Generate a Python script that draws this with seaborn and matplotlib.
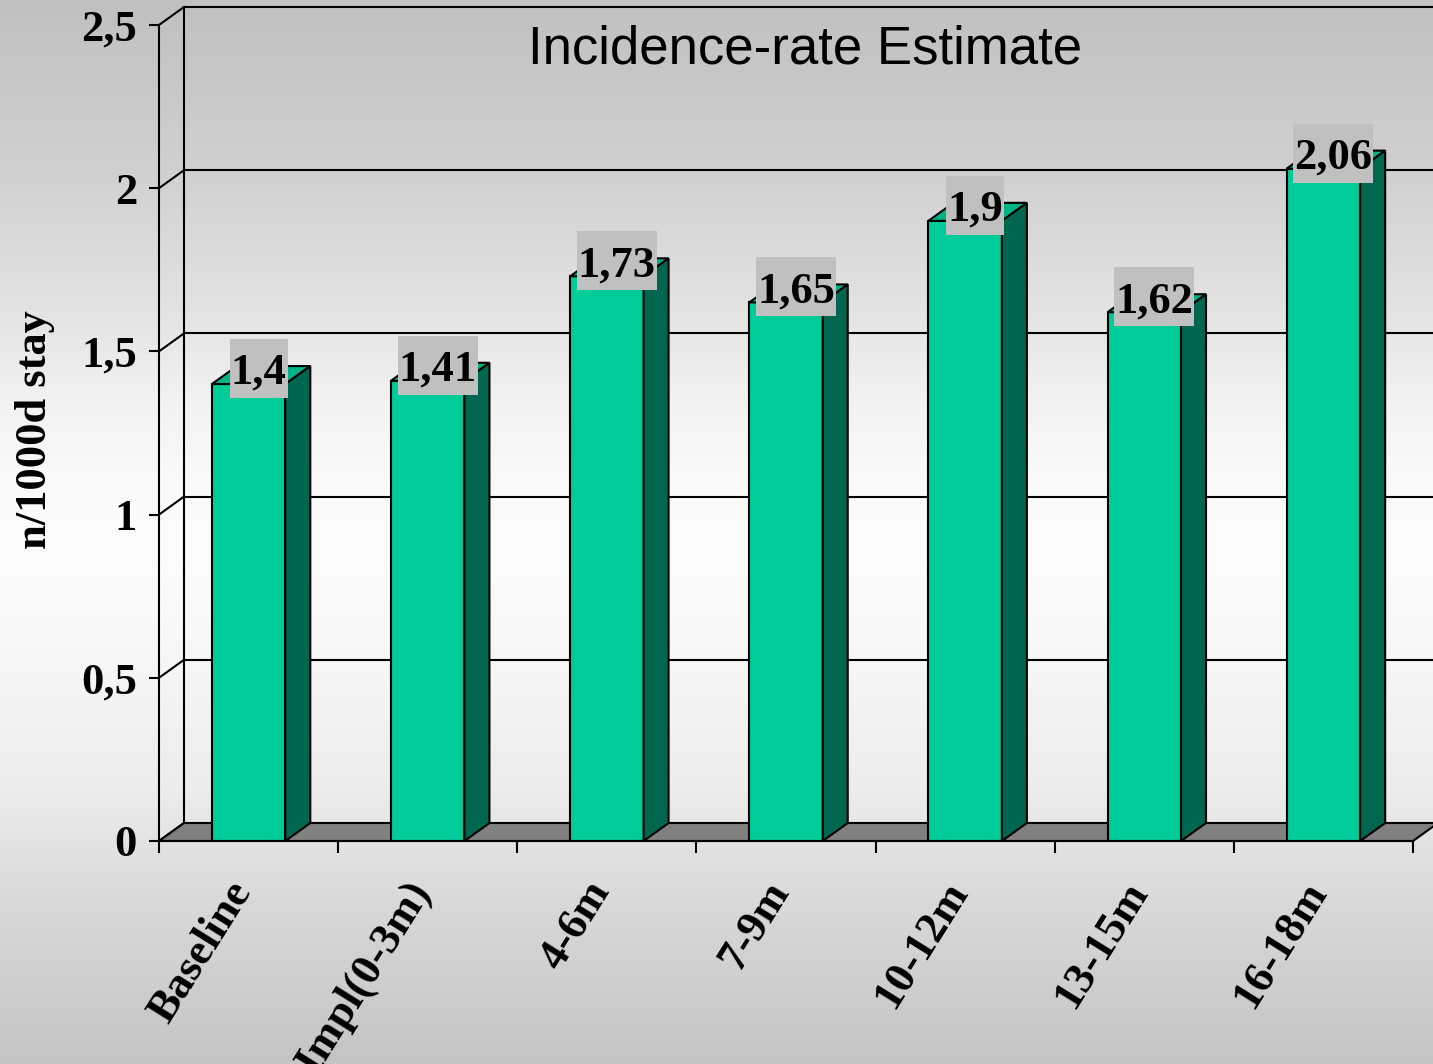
import numpy as np
import pandas as pd
import matplotlib
matplotlib.use("Agg")
import matplotlib.pyplot as plt
import seaborn as sns
from matplotlib.patches import Polygon, Rectangle
from matplotlib.ticker import FixedLocator, FuncFormatter
from matplotlib.transforms import ScaledTranslation

# --- data -------------------------------------------------------------
periods = ["Baseline", "Impl(0-3m)", "4-6m", "7-9m", "10-12m", "13-15m", "16-18m"]
rates = [1.4, 1.41, 1.73, 1.65, 1.9, 1.62, 2.06]
y_ticks = [0, 0.5, 1, 1.5, 2, 2.5]

title = "Incidence-rate Estimate"
y_label = "n/1000d stay"

# --- style ------------------------------------------------------------
FRONT = "#00CC99"
TOP = "#00B386"
SIDE = "#006650"
FLOOR = "#808080"
LABEL_BG = "#C0C0C0"
SERIF = ["Liberation Serif", "DejaVu Serif"]
SANS = ["Liberation Sans", "DejaVu Sans"]

plt.rcParams["font.family"] = SERIF
plt.rcParams["font.weight"] = "bold"
plt.rcParams["axes.linewidth"] = 1.5


def comma(v):
    return f"{v:g}".replace(".", ",")


W, H, DPI = 1433, 1064, 100
fig = plt.figure(figsize=(W / DPI, H / DPI), dpi=DPI)

# vertical grey-white-grey backdrop
bg = fig.add_axes([0, 0, 1, 1], zorder=-10)
rows = np.arange(H)
knots_px = [0, 170, 330, 400, 480, 560, 640, 790, 900, 1064]
knots_v = [192, 208, 230, 242, 250, 252, 248, 236, 217, 196]
shade = np.interp(rows, knots_px, knots_v) / 255.0
bg.imshow(np.repeat(shade[:, None], 4, axis=1)[:, :, None].repeat(3, axis=2),
          aspect="auto", extent=[0, 1, 0, 1], origin="upper")
bg.set_axis_off()

# front plane of the plot
left_px, right_px, top_px, base_px = 159, 1413, 25, 841
ax = fig.add_axes([left_px / W, (H - base_px) / H,
                   (right_px - left_px) / W, (base_px - top_px) / H])
ax.set_facecolor("none")

df = pd.DataFrame({"period": periods, "rate": rates})
sns.barplot(data=df, x="period", y="rate", order=periods, color=FRONT,
            saturation=1, width=0.41, edgecolor="black", linewidth=1.5,
            errorbar=None, ax=ax, zorder=3)
fronts = [p for p in ax.patches if isinstance(p, Rectangle)]

ax.set_xlim(-0.5, len(periods) - 0.5)
ax.set_ylim(0, 2.5)

# depth offset of the 3-D look, converted from pixels to data units
DX, DY = 25, 18
px_per_x = (right_px - left_px) / len(periods)
px_per_y = (base_px - top_px) / 2.5
dxd, dyd = DX / px_per_x, DY / px_per_y
x_lo, x_hi = -0.5, len(periods) - 0.5

# back wall outline, gridlines and the connectors to the front axis
ax.plot([x_lo + dxd] * 2, [dyd, 2.5 + dyd], color="black", lw=1.5,
        clip_on=False, zorder=1)
for v in y_ticks[1:]:
    ax.plot([x_lo + dxd, x_hi + 1.0], [v + dyd] * 2, color="black", lw=1.5,
            clip_on=False, zorder=1)
for v in y_ticks:
    ax.plot([x_lo, x_lo + dxd], [v, v + dyd], color="black", lw=1.5,
            clip_on=False, zorder=1)

# floor
ax.add_patch(Polygon([(x_lo, 0), (x_hi, 0), (x_hi + dxd, dyd), (x_lo + dxd, dyd)],
                     closed=True, fc=FLOOR, ec="black", lw=1.5, zorder=1.5,
                     clip_on=False))

# tops, sides and value labels of the bars
value_texts = []
for p in fronts:
    x0, w, h = p.get_x(), p.get_width(), p.get_height()
    x1 = x0 + w
    ax.add_patch(Polygon([(x0, h), (x1, h), (x1 + dxd, h + dyd), (x0 + dxd, h + dyd)],
                         closed=True, fc=TOP, ec="black", lw=1.5, zorder=3,
                         clip_on=False))
    ax.add_patch(Polygon([(x1, 0), (x1, h), (x1 + dxd, h + dyd), (x1 + dxd, dyd)],
                         closed=True, fc=SIDE, ec="black", lw=1.5, zorder=3,
                         clip_on=False))
    t = ax.text(x0 + w / 2 + 10 / px_per_x, h, comma(h),
                ha="center", va="baseline", fontsize=32, fontweight="bold",
                family=SERIF, zorder=5, clip_on=False)
    value_texts.append((t, h))

# axes, ticks and labels
sns.despine(ax=ax)
ax.spines["left"].set_zorder(4)
ax.spines["bottom"].set_zorder(4)

ax.yaxis.set_major_locator(FixedLocator(y_ticks))
ax.yaxis.set_major_formatter(FuncFormatter(lambda v, _: comma(v)))
ax.tick_params(axis="y", direction="out", length=7.2, width=1.5, pad=8.6,
               labelsize=32)

ax.set_xticks(range(len(periods)))
ax.set_xticks(np.arange(x_lo, x_hi + 0.01, 1.0), minor=True)
ax.set_xticklabels(periods, rotation=58, ha="right", va="top",
                   rotation_mode="anchor", fontsize=32, fontweight="bold")
ax.tick_params(axis="x", which="major", length=0, pad=23.8)
ax.tick_params(axis="x", which="minor", direction="out", length=8.6, width=1.5)
shift = ScaledTranslation(-23 / DPI, 0, fig.dpi_scale_trans)
for lbl in ax.get_xticklabels():
    lbl.set_transform(lbl.get_transform() + shift)
ax.set_xlabel("")

ax.set_ylabel(y_label, fontsize=32, fontweight="bold")
ax.yaxis.set_label_coords((35 - left_px) / (right_px - left_px),
                          (base_px - 430) / (base_px - top_px))
ax.yaxis.label.set_va("center")

ax.set_title(title, x=(805 - left_px) / (right_px - left_px),
             y=(base_px - 63) / (base_px - top_px), pad=0, va="baseline",
             fontsize=38, fontweight="normal", family=SANS)

# grey boxes behind the value labels, sized from the rendered text width
fig.canvas.draw()
renderer = fig.canvas.get_renderer()
to_data = ax.transData.inverted()
for t, h in value_texts:
    bb = t.get_window_extent(renderer)
    base_y = ax.transData.transform((0, h))[1]
    (bx0, by0), (bx1, by1) = to_data.transform([(bb.x0 - 1, base_y - 14),
                                                (bb.x1 + 1, base_y + 45)])
    ax.add_patch(Rectangle((bx0, by0), bx1 - bx0, by1 - by0, fc=LABEL_BG,
                           ec="none", zorder=4.5, clip_on=False))

fig.savefig("out.png", dpi=DPI)
